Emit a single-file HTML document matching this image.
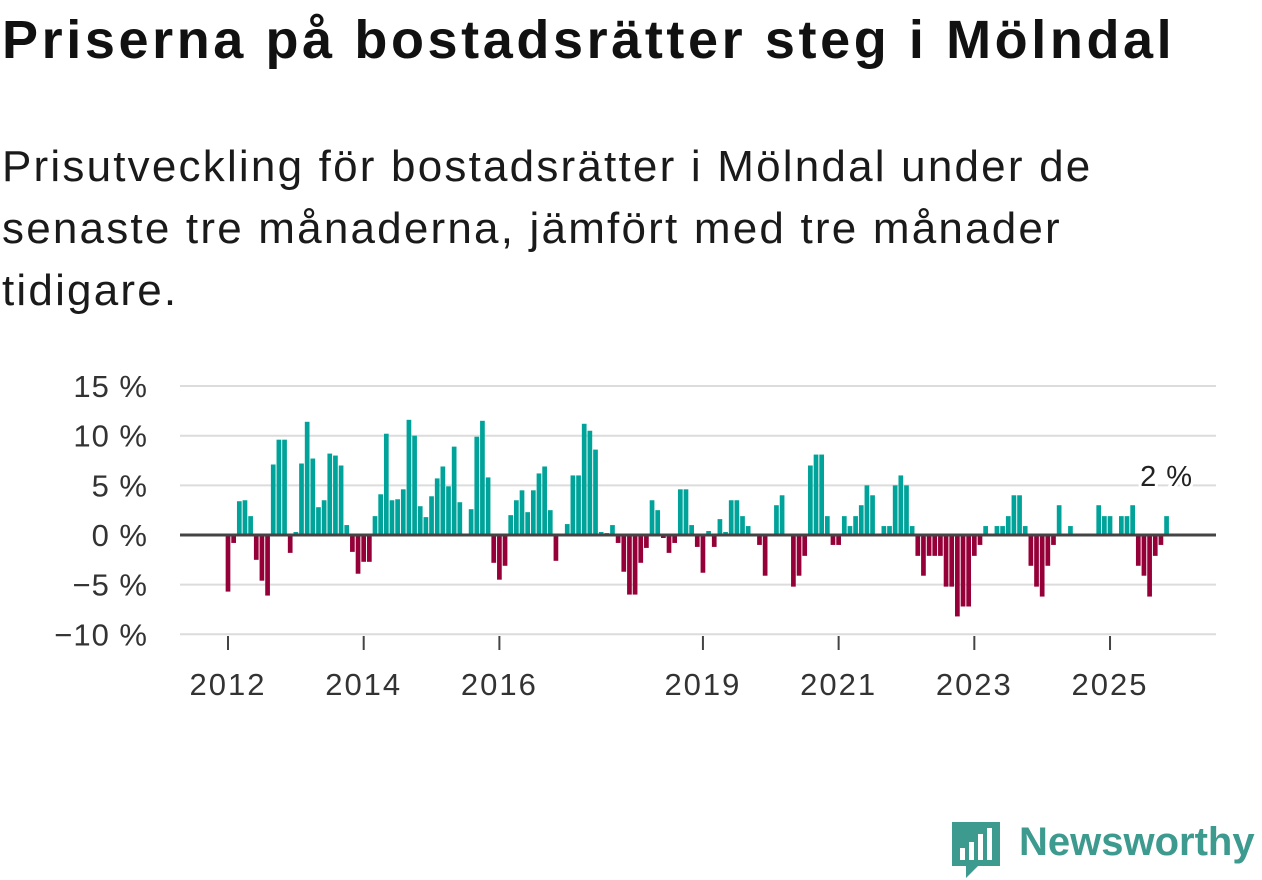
<!DOCTYPE html>
<html><head><meta charset="utf-8"><style>
body{margin:0;width:1262px;height:879px;background:#fff;overflow:hidden;font-family:"Liberation Sans",sans-serif;color:#111}
h1{position:absolute;left:2px;top:9px;margin:0;font-size:54px;font-weight:bold;letter-spacing:3.6px;white-space:nowrap}
.sub{position:absolute;left:2px;top:136px;margin:0;font-size:44px;line-height:62px;width:1250px;color:#1a1a1a;letter-spacing:2.2px;white-space:nowrap}
svg{position:absolute;left:0;top:0}
</style></head><body>
<h1>Priserna på bostadsrätter steg i Mölndal</h1>
<p class="sub">Prisutveckling för bostadsrätter i Mölndal under de<br>senaste tre månaderna, jämfört med tre månader<br>tidigare.</p>
<svg id="chart" width="1262" height="879"></svg>
<div style="position:absolute;left:952px;top:820px;height:60px;">
<svg width="50" height="60" style="position:absolute;left:0;top:0">
<path d="M0 2 H48 V46 H26 L14 58 V46 H0 Z" fill="#3c9a8f"/>
<rect x="8" y="28" width="5" height="12" fill="#fff"/><rect x="17" y="22" width="5" height="18" fill="#fff"/><rect x="26" y="14" width="5" height="26" fill="#fff"/><rect x="35" y="8" width="5" height="32" fill="#fff"/>
</svg>
<span style="position:absolute;left:67px;top:0px;font-size:40px;font-weight:bold;color:#3c9a8f;white-space:nowrap;letter-spacing:0px">Newsworthy</span>
</div>
<script>
const values = [-5.7,-0.8,3.4,3.5,1.9,-2.5,-4.6,-6.1,7.1,9.6,9.6,-1.8,0.3,7.2,11.4,7.7,2.8,3.5,8.2,8.0,7.0,1.0,-1.7,-3.9,-2.7,-2.7,1.9,4.1,10.2,3.5,3.6,4.6,11.6,10.0,2.9,1.8,3.9,5.7,6.9,4.9,
8.9,3.3,0,2.6,9.9,11.5,5.8,-2.8,-4.5,-3.1,2.0,3.5,4.5,2.3,4.5,6.2,6.9,2.5,-2.6,0,1.1,6.0,6.0,11.2,10.5,8.6,0.3,0.2,1.0,-0.8,-3.7,-6.0,-6.0,-2.8,-1.3,3.5,2.5,-0.3,-1.8,-0.8,4.6,4.6,1.0,-1.2,-3.8,0.4,
-1.2,1.6,0.3,3.5,3.5,1.9,0.9,0,-1.0,-4.1,0,3.0,4.0,0,-5.2,-4.1,-2.1,7.0,8.1,8.1,1.9,-1.0,-1.0,1.9,0.9,1.9,3.0,5.0,4.0,0,0.9,0.9,5.0,6.0,5.0,0.9,-2.1,-4.1,-2.1,-2.1,-2.1,-5.2,-5.2,-8.2,-7.2,-7.2,
-2.1,-1.0,0.9,0,0.9,0.9,1.9,4.0,4.0,0.9,-3.1,-5.2,-6.2,-3.1,-1.0,3.0,0,0.9,0,0,0,0,3.0,1.9,1.9,0,1.9,1.9,3.0,-3.1,-4.1,-6.2,-2.1,-1.0,1.9];
const yTicks = [15,10,5,0,-5,-10];
const yTickLabels = ["15 %","10 %","5 %","0 %","\u22125 %","\u221210 %"];
const xTickIndex = [0,24,48,84,108,132,156];
const xTickLabels = ["2012","2014","2016","2019","2021","2023","2025"];
const lastLabel = "2 %";

const NS="http://www.w3.org/2000/svg";
const svg=document.getElementById('chart');
const x0=228, slot=5.654, bw=4.7;
const xs=i=>x0+i*slot;
const ys=v=>535-v*9.93;
function mk(t,a){const e=document.createElementNS(NS,t);for(const k in a)e.setAttribute(k,a[k]);svg.appendChild(e);return e;}
yTicks.forEach((t,i)=>{
  if(t!==0){const g=mk('line',{x1:180,x2:1216,y1:ys(t),y2:ys(t),stroke:'#dcdcdc','stroke-width':2});
  
  }
  const l=mk('text',{x:148,y:ys(t)+11,'text-anchor':'end','font-size':31,'letter-spacing':1,fill:'#333','font-family':'Liberation Sans, sans-serif'});
  l.textContent=yTickLabels[i];
  
  
});
values.forEach((v,i)=>{
  if(v===0)return;
  const r=mk('rect',{x:xs(i)-bw/2,y:Math.min(ys(v),535),width:bw,height:Math.abs(ys(v)-535),fill:v>0?'#00a399':'#950038'});
  
  
});
const z=mk('line',{x1:180,x2:1216,y1:535,y2:535,stroke:'#444','stroke-width':3});


xTickIndex.forEach((ix,i)=>{
  const t=mk('line',{x1:xs(ix),x2:xs(ix),y1:636,y2:650,stroke:'#444','stroke-width':2});
  
  
  const l=mk('text',{x:xs(ix),y:695,'text-anchor':'middle','font-size':31,'letter-spacing':2,fill:'#333','font-family':'Liberation Sans, sans-serif'});
  l.textContent=xTickLabels[i];
  
  
});
const li=values.length-1;
const ll=mk('text',{x:xs(li),y:ys(values[li])-30,'text-anchor':'middle','font-size':29,'letter-spacing':1,fill:'#222','font-family':'Liberation Sans, sans-serif',stroke:'#fff','stroke-width':6,'paint-order':'stroke'});
ll.textContent=lastLabel;


</script>
</body></html>
